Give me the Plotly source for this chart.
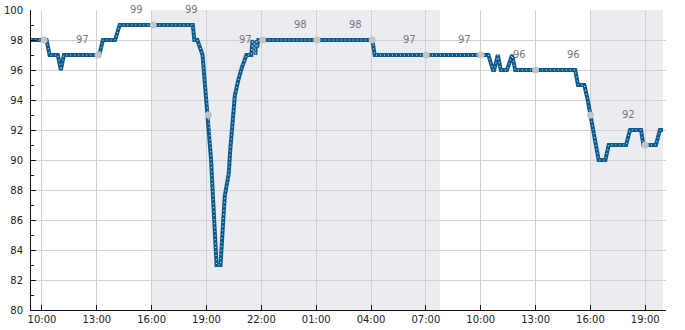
import plotly.graph_objects as go

D1 = "2024-05-01 "
D2 = "2024-05-02 "

# main series (time, value) readings
series_times = [
    D1 + "09:24", D1 + "10:15", D1 + "10:25", D1 + "10:52", D1 + "11:02", D1 + "11:12",
    D1 + "13:08", D1 + "13:20", D1 + "14:00", D1 + "14:15", D1 + "18:15",
    D1 + "18:20", D1 + "18:30", D1 + "18:38", D1 + "18:47", D1 + "18:51", D1 + "18:55",
    D1 + "19:00", D1 + "19:05", D1 + "19:10", D1 + "19:15", D1 + "19:20", D1 + "19:25",
    D1 + "19:30", D1 + "19:33", D1 + "19:46", D1 + "19:49", D1 + "19:55", D1 + "20:00",
    D1 + "20:05", D1 + "20:13", D1 + "20:18", D1 + "20:25", D1 + "20:29", D1 + "20:33",
    D1 + "20:44", D1 + "20:55", D1 + "21:11", D1 + "21:27", D1 + "21:31", D1 + "21:34",
    D1 + "21:37", D1 + "21:40", D1 + "21:43", D1 + "21:46", D1 + "21:50", D1 + "22:00",
    D2 + "04:04", D2 + "04:12", D2 + "10:25", D2 + "10:40", D2 + "10:44", D2 + "10:56",
    D2 + "11:06", D2 + "11:26", D2 + "11:43", D2 + "11:53", D2 + "15:10", D2 + "15:19",
    D2 + "15:40", D2 + "15:51", D2 + "16:00", D2 + "16:10", D2 + "16:19", D2 + "16:27",
    D2 + "16:49", D2 + "17:00", D2 + "17:57", D2 + "18:10", D2 + "18:46", D2 + "18:54",
    D2 + "19:35", D2 + "19:48", D2 + "19:58",
]
series_values = [
    98, 98, 97, 97, 96, 97,
    97, 98, 98, 99, 99,
    98, 98, 97.5, 97, 96, 95,
    94, 93, 92, 90, 88, 86,
    84, 83, 83, 84.5, 86, 87.6,
    88.2, 89.1, 90.7, 92.7, 93.8, 94.3,
    95.3, 96.1, 97, 97, 98, 97,
    98, 97, 98, 97.5, 98, 98,
    98, 97, 97, 96, 96, 97,
    96, 96, 97, 96, 96, 95,
    95, 94, 93, 92, 91, 90,
    90, 91, 91, 92, 92, 91,
    91, 92, 92,
]

# highlighted sample points
marker_times = [D1 + "10:07", D1 + "13:05", D1 + "16:05", D1 + "19:06", D1 + "22:04",
                D2 + "01:02", D2 + "04:04", D2 + "07:01", D2 + "10:00", D2 + "13:00",
                D2 + "16:00", D2 + "19:00"]
marker_values = [98, 97, 99, 93, 98, 98, 98, 97, 97, 96, 93, 91]

# value labels
label_times = [D1 + "12:13", D1 + "15:10", D1 + "18:12", D1 + "21:09", D2 + "00:09",
               D2 + "03:10", D2 + "06:07", D2 + "09:07", D2 + "12:07", D2 + "15:05",
               D2 + "18:05"]
label_values = [97, 99, 99, 97, 98, 98, 97, 97, 96, 96, 92]

# shaded periods
shade_starts = [D1 + "16:00", D2 + "16:00"]
shade_ends = [D2 + "07:46", D2 + "19:58"]

LINE = "#0d5a8c"

fig = go.Figure()
fig.add_trace(go.Scatter(x=series_times, y=series_values, mode="lines",
                         line=dict(color=LINE, width=4), hoverinfo="skip",
                         showlegend=False))
fig.add_trace(go.Scatter(x=series_times, y=series_values, mode="lines",
                         line=dict(color="white", width=1, dash="1px,3px"),
                         opacity=0.9, hoverinfo="skip", showlegend=False))
fig.add_trace(go.Scatter(x=marker_times, y=marker_values, mode="markers",
                         marker=dict(color="#c4c4c4", size=7, line=dict(width=0)),
                         showlegend=False))

for t, v in zip(label_times, label_values):
    fig.add_annotation(x=t, y=v, text=str(v), showarrow=False, yshift=16,
                       yanchor="middle", xanchor="center",
                       font=dict(family="DejaVu Sans", size=10, color="#777777"))

for s, e in zip(shade_starts, shade_ends):
    fig.add_shape(type="rect", xref="x", yref="paper", x0=s, x1=e, y0=0, y1=1,
                  fillcolor="#ebecf1", line=dict(width=0), layer="below")

fig.update_layout(
    width=685, height=330,
    margin=dict(l=31, r=19, t=10, b=20),
    paper_bgcolor="white", plot_bgcolor="white",
    font=dict(family="DejaVu Sans", size=10, color="#222222"),
    showlegend=False,
)
fig.update_xaxes(
    type="date", range=[D1 + "09:24", D2 + "20:08"], automargin=False,
    tick0=D1 + "10:00", dtick=3 * 3600 * 1000, tickformat="%H:%M",
    showgrid=True, gridcolor="#d0d0d0", gridwidth=1,
    showline=True, linecolor="#111111", linewidth=1,
    ticks="inside", ticklen=5, tickcolor="#111111",
    zeroline=False,
)
fig.update_yaxes(
    range=[80, 100], tick0=80, dtick=2, automargin=False,
    showgrid=True, gridcolor="#d0d0d0", gridwidth=1,
    showline=True, linecolor="#111111", linewidth=1,
    ticks="inside", ticklen=5, tickcolor="#111111",
    ticklabelstandoff=5,
    minor=dict(dtick=1, ticks="inside", ticklen=3, tickcolor="#111111", showgrid=False),
    zeroline=False,
)

fig.write_html("out.html")
